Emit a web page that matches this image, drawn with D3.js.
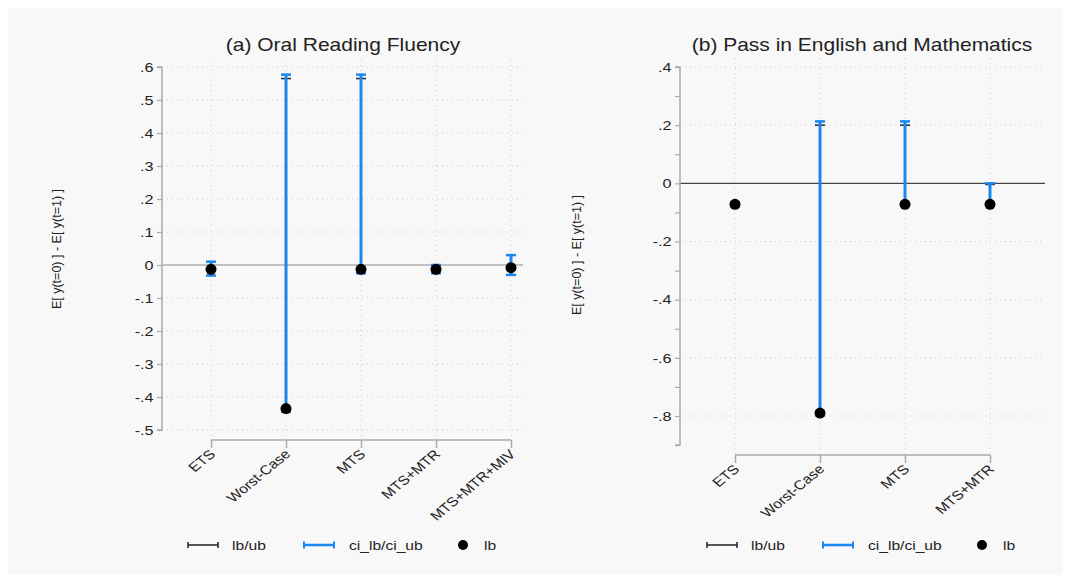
<!DOCTYPE html>
<html>
<head>
<meta charset="utf-8">
<script src="https://cdn.jsdelivr.net/npm/d3@7"></script>
<style>
  body { margin: 0; background: #fff; font-family: "Liberation Sans", Arial, sans-serif; }
  svg text { font-family: "Liberation Sans", Arial, sans-serif; fill: #222; }
</style>
</head>
<body>
<svg id="chart" width="1071" height="583"></svg>
<script>
// panel (a) Oral Reading Fluency
const catsA = ["ETS", "Worst-Case", "MTS", "MTS+MTR", "MTS+MTR+MIV"];
const lbA = [-0.013, -0.435, -0.013, -0.013, -0.008];
const ubA = [-0.013, 0.565, 0.565, -0.002, -0.008];
const ciLbA = [-0.032, -0.445, -0.025, -0.025, -0.030];
const ciUbA = [0.010, 0.577, 0.577, 0.000, 0.030];
const ticksA = [0.6, 0.5, 0.4, 0.3, 0.2, 0.1, 0, -0.1, -0.2, -0.3, -0.4, -0.5];

// panel (b) Pass in English and Mathematics
const catsB = ["ETS", "Worst-Case", "MTS", "MTS+MTR"];
const lbB = [-0.072, -0.790, -0.072, -0.072];
const ubB = [-0.072, 0.200, 0.200, -0.004];
const ciLbB = [-0.080, -0.798, -0.078, -0.078];
const ciUbB = [-0.065, 0.213, 0.213, 0.000];
const ticksB = [0.4, 0.2, 0, -0.2, -0.4, -0.6, -0.8];
const minorB = [0.3, 0.1, -0.1, -0.3, -0.5, -0.7, -0.9];

const svg = d3.select("#chart");
const blue = "#1a86f0";
const sx = 1.2;   // the exported graph is a little wider than tall, text is stretched
// stata style labels: ".4", "-.2", "0"
const fmt = v => v === 0 ? "0" : (v < 0 ? "-" : "") + d3.format(".1f")(Math.abs(v)).replace(/^0/, "");

svg.append("rect").attr("x", 8).attr("y", 8).attr("width", 1055).attr("height", 567)
    .attr("fill", "#f8f8f8");

function label(sel, x, y, txt, size, anchor) {
    return sel.append("text")
        .attr("transform", `translate(${x},${y}) scale(${sx},1)`)
        .attr("text-anchor", anchor || "start")
        .attr("font-size", size).text(txt);
}

function drawPanel(p) {
    const g = svg.append("g");
    const x = d3.scalePoint().domain(p.cats).range(p.xr);
    const y = d3.scaleLinear().domain(p.yd).range(p.yr);
    const [xl, xr] = [p.axisX, p.right];

    // gridlines
    g.selectAll(".hgrid").data(p.ticks.filter(t => t !== 0)).join("line")
        .attr("x1", xl).attr("x2", xr)
        .attr("y1", d => y(d)).attr("y2", d => y(d))
        .attr("stroke", "#ccc").attr("stroke-width", 1).attr("stroke-dasharray", "1,4");
    g.selectAll(".vgrid").data(p.cats).join("line")
        .attr("x1", d => x(d)).attr("x2", d => x(d))
        .attr("y1", p.gridTop).attr("y2", p.xAxisY)
        .attr("stroke", "#ccc").attr("stroke-width", 1).attr("stroke-dasharray", "1,4");

    // zero reference line
    g.append("line").attr("x1", xl).attr("x2", xr)
        .attr("y1", y(0)).attr("y2", y(0))
        .attr("stroke", p.zeroColor).attr("stroke-width", 1.2);

    // y axis
    const yAxis = d3.axisLeft(y).tickValues(p.ticks.concat(p.minor || []))
        .tickSize(5).tickFormat(d => p.ticks.includes(d) ? fmt(d) : "");
    const ya = g.append("g").attr("transform", `translate(${xl},0)`).call(yAxis);
    ya.select(".domain").attr("d", `M-5,${y(p.axisTop)}H0V${y(p.axisBottom)}H-5`)
        .attr("stroke", "#aaa").attr("stroke-width", 1.5);
    ya.selectAll(".tick line").attr("stroke", "#aaa").attr("stroke-width", 1.2);
    ya.selectAll(".tick text").attr("font-size", 13.5).attr("x", -7).attr("fill", "#222")
        .attr("transform", `scale(${sx},1)`);

    // x axis
    const xAxis = d3.axisBottom(x).tickSize(6).tickSizeOuter(0);
    const xa = g.append("g").attr("transform", `translate(0,${p.xAxisY})`).call(xAxis);
    xa.select(".domain").remove();
    xa.append("line").attr("x1", x(p.cats[0])).attr("x2", x(p.cats[p.cats.length - 1]))
        .attr("stroke", "#aaa").attr("stroke-width", 1.5);
    xa.selectAll(".tick line").attr("stroke", "#aaa").attr("stroke-width", 1.5).attr("y1", 0).attr("y2", 8);
    xa.selectAll(".tick text").attr("font-size", 13).attr("fill", "#222")
        .attr("text-anchor", "end").attr("dy", 0).attr("y", 0)
        .attr("transform", `scale(${sx},1) translate(4,15) rotate(-45)`);

    const rows = p.cats.map((c, i) => ({c, lb: p.lb[i], ub: p.ub[i], clb: p.clb[i], cub: p.cub[i]}));
    const cap = 5;

    // bounds (drawn below the ci bars)
    const b = g.selectAll(".bnd").data(rows).join("g");
    b.append("line").attr("x1", d => x(d.c)).attr("x2", d => x(d.c))
        .attr("y1", d => y(d.lb)).attr("y2", d => y(d.ub))
        .attr("stroke", "#222").attr("stroke-width", 1);
    b.selectAll(".cap").data(d => [[d.c, d.lb], [d.c, d.ub]]).join("line")
        .attr("x1", d => x(d[0]) - cap).attr("x2", d => x(d[0]) + cap)
        .attr("y1", d => y(d[1])).attr("y2", d => y(d[1]))
        .attr("stroke", "#222").attr("stroke-width", 1.5);

    // ci bars
    const ci = g.selectAll(".ci").data(rows).join("g");
    ci.append("line").attr("x1", d => x(d.c)).attr("x2", d => x(d.c))
        .attr("y1", d => y(d.clb)).attr("y2", d => y(d.cub))
        .attr("stroke", blue).attr("stroke-width", 3);
    ci.selectAll(".cap").data(d => [[d.c, d.clb], [d.c, d.cub]]).join("line")
        .attr("x1", d => x(d[0]) - cap).attr("x2", d => x(d[0]) + cap)
        .attr("y1", d => y(d[1])).attr("y2", d => y(d[1]))
        .attr("stroke", blue).attr("stroke-width", 2.5);

    // lb points
    g.selectAll(".pt").data(rows).join("circle")
        .attr("cx", d => x(d.c)).attr("cy", d => y(d.lb)).attr("r", 5.5)
        .attr("fill", "#000");

    // title
    label(g, p.titleX, 51, p.title, 17.5, "middle").attr("fill", "#111");

    // y label
    g.append("text").attr("transform", `translate(${p.ylabX},${p.ylabY}) rotate(-90)`)
        .attr("text-anchor", "middle").attr("font-size", 12.5).attr("fill", "#222")
        .text("E[ y(t=0) ] - E[ y(t=1) ]");

    // legend
    const ly = 545, lx = p.legX;
    const lg = g.append("g");
    lg.append("line").attr("x1", lx).attr("x2", lx + 30).attr("y1", ly).attr("y2", ly)
        .attr("stroke", "#222").attr("stroke-width", 1.5);
    [lx, lx + 30].forEach(v => lg.append("line").attr("x1", v).attr("x2", v)
        .attr("y1", ly - 3).attr("y2", ly + 3).attr("stroke", "#222").attr("stroke-width", 1.5));
    label(lg, lx + 44, ly + 5, "lb/ub", 13);
    const bx = lx + 116;
    lg.append("line").attr("x1", bx).attr("x2", bx + 30).attr("y1", ly).attr("y2", ly)
        .attr("stroke", blue).attr("stroke-width", 2.5);
    [bx, bx + 30].forEach(v => lg.append("line").attr("x1", v).attr("x2", v)
        .attr("y1", ly - 3.5).attr("y2", ly + 3.5).attr("stroke", blue).attr("stroke-width", 2));
    label(lg, bx + 45, ly + 5, "ci_lb/ci_ub", 13);
    lg.append("circle").attr("cx", lx + 275).attr("cy", ly).attr("r", 5).attr("fill", "#000");
    label(lg, lx + 296, ly + 5, "lb", 13);
}

drawPanel({
    cats: catsA, lb: lbA, ub: ubA, clb: ciLbA, cub: ciUbA, ticks: ticksA,
    xr: [211, 511], yd: [0.6, -0.5], yr: [67, 430],
    axisX: 162, right: 523, gridTop: 60, xAxisY: 440, axisTop: 0.6, axisBottom: -0.5,
    zeroColor: "#888", title: "(a) Oral Reading Fluency", titleX: 343,
    ylabX: 61, ylabY: 249, legX: 188
});

drawPanel({
    cats: catsB, lb: lbB, ub: ubB, clb: ciLbB, cub: ciUbB, ticks: ticksB, minor: minorB,
    xr: [735, 990], yd: [0.4, -0.8], yr: [67, 416],
    axisX: 680, right: 1045, gridTop: 58, xAxisY: 455, axisTop: 0.4, axisBottom: -0.9,
    zeroColor: "#444", title: "(b) Pass in English and Mathematics", titleX: 862,
    ylabX: 581, ylabY: 255, legX: 707
});
</script>
</body>
</html>
